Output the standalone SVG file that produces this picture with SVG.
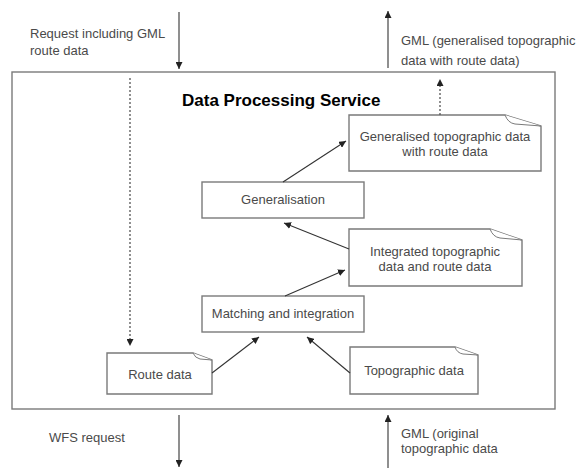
<svg xmlns="http://www.w3.org/2000/svg" width="580" height="468" viewBox="0 0 580 468">
<style>
.box{fill:#fff;stroke:#7a7a7a;stroke-width:1.4}
.fold{fill:#fff;stroke:#7a7a7a;stroke-width:1}
.t{font-family:"Liberation Sans",Arial,sans-serif;font-size:13px;fill:#4a4a4a}
.c{text-anchor:middle}
.title{font-family:"Liberation Sans",Arial,sans-serif;font-size:17px;font-weight:bold;fill:#000}
.ln{fill:none;stroke:#333;stroke-width:1.1}
.dot{fill:none;stroke:#555;stroke-width:1.3;stroke-dasharray:2 2}
</style>
<defs>
<marker id="ah" viewBox="0 0 10 10" refX="10" refY="5" markerWidth="7" markerHeight="7" markerUnits="userSpaceOnUse" orient="auto">
<path d="M0,0 L10,5 L0,10 Z" fill="#222"/>
</marker>
</defs>
<g id="service">
<rect class="box" x="12" y="72" width="543" height="337"/>
<text class="title" x="182" y="106">Data Processing Service</text>
</g>
<g id="generalisation">
<rect class="box" x="202" y="182" width="162" height="36"/>
<text class="t c" x="283" y="204">Generalisation</text>
</g>
<g id="matching">
<rect class="box" x="202" y="296" width="162" height="36"/>
<text class="t c" x="283" y="318">Matching and integration</text>
</g>
<g id="generalised-data">
<path class="box" d="M349,115 H505 L541,126 V171 H349 Z"/>
<path class="fold" d="M505,115 Q508,123 515,124 L541,126"/>
<text class="t c" x="445" y="141">Generalised topographic data</text>
<text class="t c" x="445" y="156">with route data</text>
</g>
<g id="integrated-data">
<path class="box" d="M349,229 H490 L522,240 V286 H349 Z"/>
<path class="fold" d="M490,229 Q493,237 500,238 L522,240"/>
<text class="t c" x="435" y="256">Integrated topographic</text>
<text class="t c" x="435" y="271">data and route data</text>
</g>
<g id="topographic-data">
<path class="box" d="M350,347 H455 L478,355 V394 H350 Z"/>
<path class="fold" d="M455,347 Q457,353 463,354 L478,355"/>
<text class="t c" x="414" y="375">Topographic data</text>
</g>
<g id="route-data">
<path class="box" d="M107,353 H193 L212,360 V394 H107 Z"/>
<path class="fold" d="M193,353 Q195,358 200,359 L212,360"/>
<text class="t c" x="160" y="379">Route data</text>
</g>
<g id="labels">
<text class="t" x="30" y="38">Request including GML</text>
<text class="t" x="30" y="55">route data</text>
<text class="t" x="401" y="45">GML (generalised topographic</text>
<text class="t" x="401" y="65">data with route data)</text>
<text class="t" x="49" y="442">WFS request</text>
<text class="t" x="401" y="438">GML (original</text>
<text class="t" x="401" y="453">topographic data</text>
</g>
<g id="connectors">
<line class="ln" x1="179" y1="12" x2="179" y2="69" marker-end="url(#ah)"/>
<line class="ln" x1="388" y1="68" x2="388" y2="11" marker-end="url(#ah)"/>
<line class="ln" x1="179" y1="415" x2="179" y2="467" marker-end="url(#ah)"/>
<line class="ln" x1="388" y1="468" x2="388" y2="415" marker-end="url(#ah)"/>
<line class="dot" x1="130" y1="78" x2="130" y2="346" marker-end="url(#ah)"/>
<line class="dot" x1="440" y1="115" x2="440" y2="79" marker-end="url(#ah)"/>
<line class="ln" x1="283" y1="182" x2="346" y2="141" marker-end="url(#ah)"/>
<line class="ln" x1="349" y1="249" x2="284" y2="223" marker-end="url(#ah)"/>
<line class="ln" x1="285" y1="296" x2="345" y2="270" marker-end="url(#ah)"/>
<line class="ln" x1="212" y1="373" x2="259" y2="337" marker-end="url(#ah)"/>
<line class="ln" x1="350" y1="373" x2="307" y2="337" marker-end="url(#ah)"/>
</g>
</svg>
